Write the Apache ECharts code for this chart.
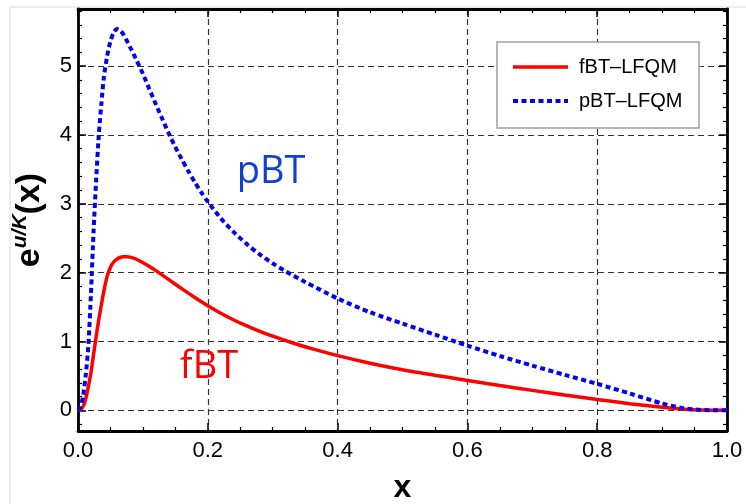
<!DOCTYPE html>
<html><head><meta charset="utf-8">
<script src="https://cdn.jsdelivr.net/npm/echarts@6/dist/echarts.min.js"></script>
<style>html,body{margin:0;padding:0;background:#fff}#c{width:746px;height:504px}</style>
</head><body><div id="c"></div>
<script>
// fBT-LFQM (red solid)
const fbtX = [0,0.005,0.01,0.015,0.02,0.025,0.03,0.035,0.04,0.045,0.05,0.055,0.06,0.065,0.07,0.075,0.08,0.09,0.1,0.11,0.12,0.13,0.14,0.15,0.16,0.18,0.2,0.22,0.24,0.26,0.28,0.3,0.33,0.36,0.4,0.45,0.5,0.55,0.6,0.65,0.7,0.75,0.8,0.85,0.9,0.93,0.96,1.0];
const fbtY = [0,0.02,0.1,0.3,0.55,0.88,1.2,1.48,1.74,1.95,2.08,2.155,2.197,2.22,2.23,2.232,2.226,2.195,2.145,2.09,2.03,1.965,1.898,1.832,1.767,1.64,1.52,1.41,1.312,1.226,1.148,1.077,0.982,0.896,0.795,0.685,0.59,0.51,0.435,0.36,0.29,0.222,0.158,0.097,0.045,0.02,0.005,0];
// pBT-LFQM (blue dotted)
const pbtX = [0,0.004,0.008,0.012,0.016,0.02,0.024,0.028,0.032,0.036,0.04,0.045,0.05,0.055,0.06,0.065,0.07,0.08,0.09,0.1,0.11,0.12,0.13,0.14,0.15,0.16,0.17,0.18,0.19,0.2,0.22,0.24,0.26,0.28,0.3,0.32,0.35,0.4,0.45,0.5,0.55,0.6,0.65,0.7,0.75,0.8,0.85,0.9,0.93,0.96,1.0];
const pbtY = [0,0.05,0.22,0.52,0.95,1.7,2.6,3.35,4.0,4.45,4.85,5.15,5.36,5.49,5.54,5.52,5.46,5.28,5.09,4.89,4.665,4.445,4.23,4.02,3.825,3.645,3.475,3.315,3.165,3.03,2.79,2.59,2.415,2.265,2.135,2.02,1.865,1.625,1.425,1.26,1.1,0.94,0.79,0.65,0.515,0.385,0.245,0.1,0.035,0.006,0];
const seriesNames = ['fBT\u2013LFQM','pBT\u2013LFQM'];
const xTickLabels = ['0.0','0.2','0.4','0.6','0.8','1.0'];
const yTickLabels = ['0','1','2','3','4','5'];

const chart = echarts.init(document.getElementById('c'), null, {renderer:'canvas'});
const FONT = 'Liberation Sans, Arial, Helvetica, sans-serif';
const frame = {show:true, onZero:false, lineStyle:{color:'#000', width:2.8}};
const tick = {show:true, inside:true, length:8, lineStyle:{color:'#000', width:1.5}};
const minor = (n)=>({show:true, splitNumber:n, length:4, lineStyle:{color:'#000', width:1.2}});
const grid = {show:true, lineStyle:{color:'#333', width:1.2, type:[6,4]}};
const xLab = v => { const i = Math.round(v/0.2); return Math.abs(v - i*0.2) < 1e-6 ? xTickLabels[i] : ''; };
const yLab = v => { const i = Math.round(v); return (Math.abs(v - i) < 1e-6 && i >= 0 && i < yTickLabels.length) ? yTickLabels[i] : ''; };

const option = {
  backgroundColor:'#fff',
  animation:false,
  grid:{left:78, right:19, top:9, bottom:73, containLabel:false, outerBoundsMode:'none'},
  xAxis:[
    {type:'value', min:0, max:1, interval:0.2, position:'bottom', axisLine:frame, axisTick:tick, minorTick:minor(4),
     axisLabel:{fontSize:22, color:'#000', fontFamily:FONT, margin:9, formatter:xLab}, splitLine:grid,
     name:'x', nameLocation:'middle', nameGap:41, nameTextStyle:{fontSize:32, fontWeight:'bold', color:'#000', fontFamily:FONT}},
    {type:'value', min:0, max:1, interval:0.2, position:'top', axisLine:frame, axisTick:tick, minorTick:minor(4),
     axisLabel:{show:false}, splitLine:{show:false}}
  ],
  yAxis:[
    {type:'value', min:-0.3, max:5.83, position:'left', axisLine:frame, axisTick:tick, minorTick:minor(5),
     axisLabel:{fontSize:22, color:'#000', fontFamily:FONT, margin:6, formatter:yLab, showMinLabel:true, showMaxLabel:true}, splitLine:grid},
    {type:'value', min:-0.3, max:5.83, position:'right', axisLine:frame, axisTick:tick, minorTick:minor(5),
     axisLabel:{show:false}, splitLine:{show:false}}
  ],
  series:[
    {name:seriesNames[0], type:'line', xAxisIndex:0, yAxisIndex:0, showSymbol:false, symbol:'none', smooth:0.25, z:3,
     data:fbtX.map((x,i)=>[x,fbtY[i]]), lineStyle:{color:'#ff0000', width:3.5}},
    {name:seriesNames[1], type:'line', xAxisIndex:0, yAxisIndex:0, showSymbol:false, symbol:'none', smooth:0.25, z:4,
     data:pbtX.map((x,i)=>[x,pbtY[i]]), lineStyle:{color:'#0000ee', width:4, type:[5,3.5], cap:'butt'}}
  ],
  graphic:[
    {type:'line', z:0, shape:{x1:10,y1:7,x2:746,y2:7}, style:{stroke:'#dcdcdc', lineWidth:1}},
    {type:'line', z:0, shape:{x1:10,y1:7,x2:10,y2:504}, style:{stroke:'#dcdcdc', lineWidth:1}},
    {type:'text', x:30, y:220, rotation:Math.PI/2, z:100,
     style:{text:'{e|e}{s|u/K}{e|(x)}', align:'center', verticalAlign:'middle', fill:'#000',
       rich:{e:{fontSize:34, fontWeight:'bold', fontFamily:FONT, lineHeight:40, fill:'#000'},
             s:{fontSize:21, fontWeight:'bold', fontStyle:'italic', fontFamily:FONT, lineHeight:22, verticalAlign:'top', fill:'#000'}}}},
    {type:'rect', z:100, shape:{x:497, y:42, width:202, height:86}, style:{fill:'#fff', stroke:'#a0a0a0', lineWidth:1.5}},
    {type:'line', z:101, shape:{x1:513,y1:67,x2:568,y2:67}, style:{stroke:'#ff0000', lineWidth:3.5}},
    {type:'line', z:101, shape:{x1:513,y1:101,x2:568,y2:101}, style:{stroke:'#0000ee', lineWidth:4, lineDash:[5,3.5]}},
    {type:'text', z:101, x:579, y:67, style:{text:seriesNames[0], fontSize:20, fontFamily:FONT, fill:'#000', align:'left', verticalAlign:'middle'}},
    {type:'text', z:101, x:579, y:101, style:{text:seriesNames[1], fontSize:20, fontFamily:FONT, fill:'#000', align:'left', verticalAlign:'middle'}},
    {type:'text', z:101, x:271, y:172, style:{text:'pBT', fontSize:38, fontFamily:'Open Sans, sans-serif', fill:'#1040d0', align:'center', verticalAlign:'middle'}},
    {type:'text', z:101, x:209, y:367, style:{text:'fBT', fontSize:38, fontFamily:'Open Sans, sans-serif', fill:'#ff0000', align:'center', verticalAlign:'middle'}}
  ]
};
chart.setOption(option);
</script>
</body></html>
